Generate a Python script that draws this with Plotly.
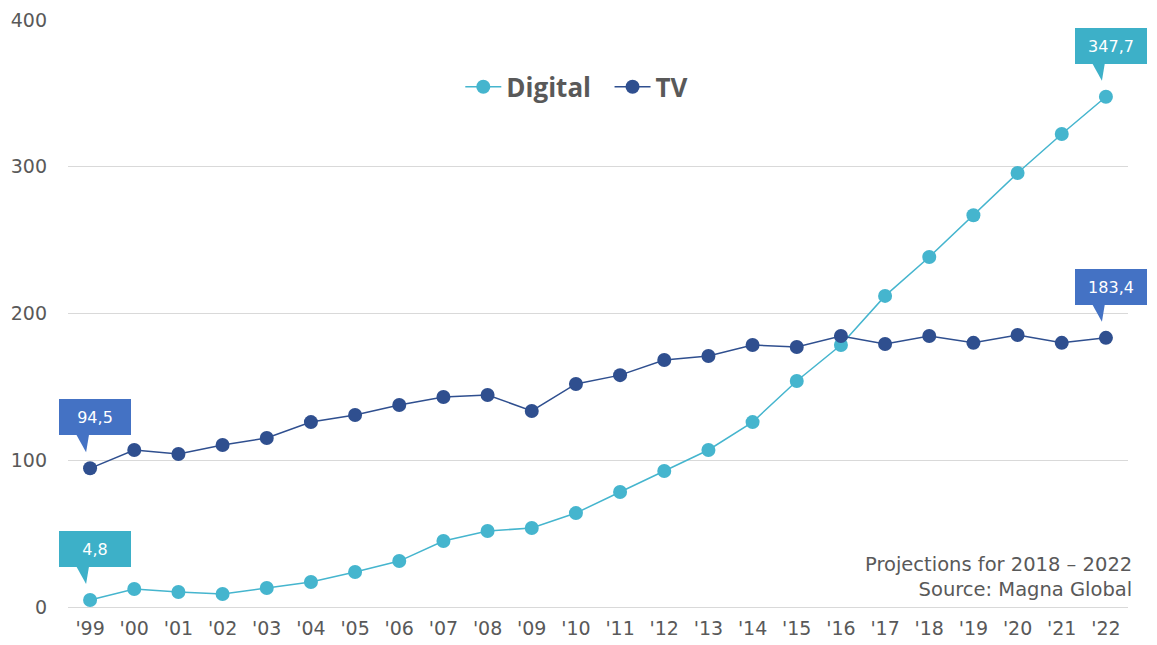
import plotly.graph_objects as go

years = ["'99", "'00", "'01", "'02", "'03", "'04", "'05", "'06", "'07", "'08", "'09", "'10",
         "'11", "'12", "'13", "'14", "'15", "'16", "'17", "'18", "'19", "'20", "'21", "'22"]
digital = [4.8, 12.3, 10.2, 8.9, 12.9, 17.0, 23.9, 31.3, 45.0, 51.8, 53.8, 64.0,
           78.4, 92.7, 107.0, 126.0, 154.0, 178.5, 212.0, 238.5, 267.0, 295.7, 322.3, 347.7]
tv = [94.5, 107.0, 104.3, 110.4, 115.2, 126.0, 130.8, 137.6, 143.1, 144.5, 133.6, 152.0,
      158.0, 168.3, 171.0, 178.5, 177.2, 184.7, 179.2, 184.7, 180.0, 185.4, 180.0, 183.4]

DIG_C = "#45B5CE"
TV_C = "#2F4F8F"
DIG_CALL = "#3DB0C8"
TV_CALL = "#4472C4"
GREY = "#595959"

xs = list(range(len(years)))

fig = go.Figure()
fig.add_trace(go.Scatter(x=xs, y=digital, name="Digital\u00a0\u00a0", mode="lines+markers",
                         line=dict(color=DIG_C, width=1.5),
                         marker=dict(color=DIG_C, size=14)))
fig.add_trace(go.Scatter(x=xs, y=tv, name="TV", mode="lines+markers",
                         line=dict(color=TV_C, width=1.5),
                         marker=dict(color=TV_C, size=14)))


def fmt(v):
    return f"{v:.1f}".replace(".", ",")


# callout tail (pixel offsets relative to the data point, y up)
TAIL = "M -14,34 L -4,16 L -1,34 Z"

callouts = [(0, digital[0], DIG_CALL), (len(years) - 1, digital[-1], DIG_CALL),
            (0, tv[0], TV_CALL), (len(years) - 1, tv[-1], TV_CALL)]
for xi, v, c in callouts:
    fig.add_shape(type="path", xref="x", yref="y", xsizemode="pixel", ysizemode="pixel",
                  xanchor=xi, yanchor=v, path=TAIL, fillcolor=c,
                  line=dict(width=0), layer="above")
    fig.add_annotation(x=xi, y=v, xref="x", yref="y", text=fmt(v), showarrow=False,
                       xshift=5, yshift=51, width=64, height=28, borderpad=4,
                       bgcolor=c, borderwidth=0,
                       font=dict(family="DejaVu Sans", size=16, color="white"))

fig.add_annotation(x=1.0, y=0.0, xref="paper", yref="paper", xanchor="right", yanchor="bottom",
                   align="right", showarrow=False, xshift=6, yshift=4,
                   text="Projections for 2018 – 2022<br>Source: Magna Global",
                   font=dict(family="DejaVu Sans", size=19.5, color=GREY))

# the page body adds an 8 px offset; compensate so the plot area lands where the reference has it
fig.update_layout(
    width=1149, height=637,
    margin=dict(l=60, r=29, t=12, b=38),
    paper_bgcolor="white", plot_bgcolor="white",
    font=dict(family="DejaVu Sans", color=GREY),
    showlegend=True,
    legend=dict(orientation="h", x=0.48, xanchor="center", y=0.886, yanchor="middle",
                font=dict(family="Open Sans", size=26, color=GREY, weight="bold"),
                itemwidth=36, bgcolor="rgba(0,0,0,0)"),
    xaxis=dict(range=[-0.5, len(years) - 0.5], tickvals=xs, ticktext=years,
               showgrid=False, zeroline=False, showline=False, automargin=False,
               tickfont=dict(size=19, color=GREY), ticklabelstandoff=8),
    yaxis=dict(range=[0, 400], dtick=100, showgrid=True, gridcolor="#D9D9D9", gridwidth=1,
               zeroline=True, zerolinecolor="#D9D9D9", zerolinewidth=1, showline=False,
               automargin=False,
               tickfont=dict(size=19, color=GREY), ticklabelstandoff=20),
)

fig.write_html("out.html")
